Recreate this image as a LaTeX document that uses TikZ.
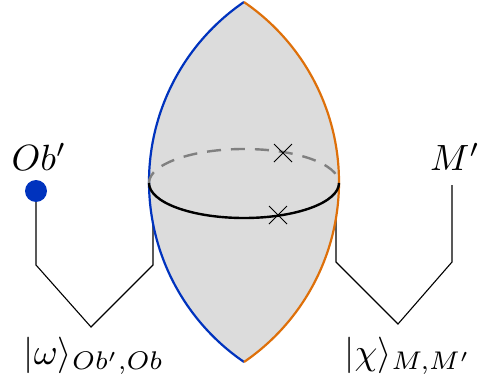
\documentclass[tikz,border=0pt]{standalone}
\usepackage{amsmath}
\definecolor{lensblue}{RGB}{0,51,190}
\definecolor{lensorange}{RGB}{222,112,10}
\definecolor{lensgrey}{RGB}{220,220,220}
\definecolor{dashgrey}{RGB}{128,128,128}
\begin{document}
\begin{tikzpicture}[x=1pt,y=-1pt,
  wire/.style={black,line width=1.1pt},
  rim/.style={line width=2.2pt},
  cross/.style={black,line width=1pt},
  lbl/.style={inner sep=0pt,scale=3.65}]
\useasboundingbox (0,0) rectangle (480,383);
% wires
\node[circle,fill=lensblue,minimum size=22pt,inner sep=0pt] (dot) at (36,191) {};
\coordinate (l1) at (36,265);
\coordinate (l2) at (91,327);
\coordinate (l3) at (153,265);
\coordinate (l4) at (153,183);
\draw[wire] (dot) -- (l1) -- (l2) -- (l3) -- (l4);
\coordinate (r1) at (336,183);
\coordinate (r2) at (336,262);
\coordinate (r3) at (398,324);
\coordinate (r4) at (452,262);
\coordinate (r5) at (452,185);
\draw[wire] (r1) -- (r2) -- (r3) -- (r4) -- (r5);
% lens
\coordinate (top) at (244,2);
\coordinate (bot) at (244,362);
\fill[lensgrey] (top) arc[start angle=235.65,end angle=124.35,radius=218]
  arc[start angle=55.65,end angle=-55.65,radius=218] -- cycle;
\draw[rim,lensblue] (top) arc[start angle=235.65,end angle=124.35,radius=218];
\draw[rim,lensorange] (bot) arc[start angle=55.65,end angle=-55.65,radius=218];
% equator
\coordinate (eq) at (244,183);
\draw[line width=2.4pt,dashgrey,dash pattern=on 14pt off 10pt,dash phase=2pt] ([xshift=-95pt]eq) arc[start angle=180,end angle=360,x radius=95,y radius=34];
\draw[line width=2.4pt,black] ([xshift=95pt]eq) arc[start angle=0,end angle=180,x radius=95,y radius=35];
% crosses
\coordinate (c1) at (283,153);
\coordinate (c2) at (278,215);
\draw[cross] ([shift={(-9,-9)}]c1) -- ([shift={(9,9)}]c1) ([shift={(-9,9)}]c1) -- ([shift={(9,-9)}]c1);
\draw[cross] ([shift={(-9,-9)}]c2) -- ([shift={(9,9)}]c2) ([shift={(-9,9)}]c2) -- ([shift={(9,-9)}]c2);
% labels
\node[lbl] (obl) at (39,157) {$Ob'$};
\node[lbl] (ml) at (455,157) {$M'$};
\node[lbl] (omega) at (94,356) {$|\omega\rangle_{Ob',Ob}$};
\node[lbl] (chi) at (408,356) {$|\chi\rangle_{M,M'}$};
\end{tikzpicture}
\end{document}
